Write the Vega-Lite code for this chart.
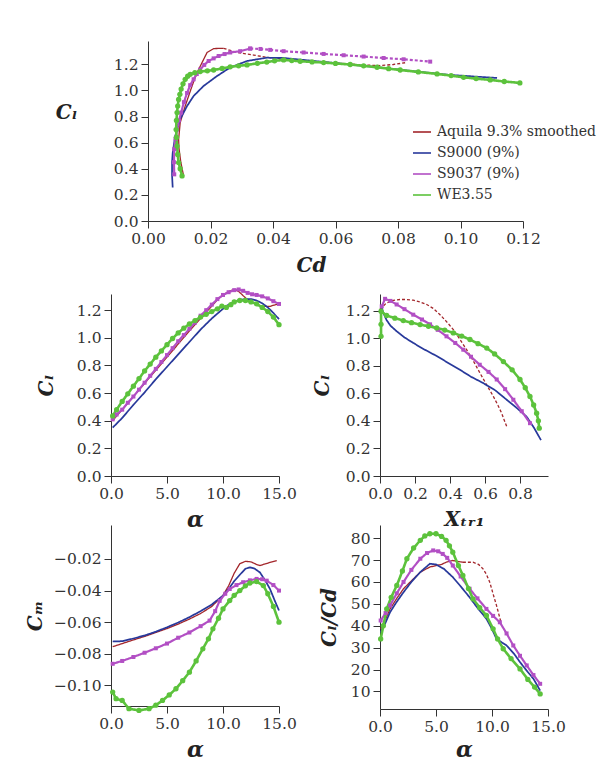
{
"$schema": "https://vega.github.io/schema/vega-lite/v6.json",
"padding": {"left": 25, "top": 41, "right": 5, "bottom": 5},
"spacing": 10,
"resolve": {"legend": {"color": "independent"}},
"config": {
  "view": {"stroke": null},
  "font": "DejaVu Serif",
  "axis": {"grid": false, "labelFlush": false, "labelOverlap": false, "domainColor": "#333", "tickColor": "#333", "tickSize": 7, "labelPadding": 3, "labelFont": "DejaVu Serif", "labelFontSize": 15.5, "labelColor": "#333", "titleFont": "DejaVu Serif", "titleFontSize": 20, "titleFontStyle": "italic", "titleFontWeight": "bold", "titleColor": "#222", "titleBaseline": "middle"},
  "legend": {"labelFont": "DejaVu Serif", "labelFontSize": 14, "labelColor": "#333", "symbolType": "stroke", "symbolSize": 324, "symbolStrokeWidth": 1.6, "rowPadding": 4, "labelOffset": 5, "padding": 0}
},
"datasets": {
"polar": [
{"airfoil":"Aquila 9.3% smoothed","x":0.0114,"y":0.345,"seg":1},{"airfoil":"Aquila 9.3% smoothed","x":0.0105,"y":0.45,"seg":1},{"airfoil":"Aquila 9.3% smoothed","x":0.0099,"y":0.56,"seg":1},{"airfoil":"Aquila 9.3% smoothed","x":0.0098,"y":0.625,"seg":1},{"airfoil":"Aquila 9.3% smoothed","x":0.0103,"y":0.753,"seg":1},{"airfoil":"Aquila 9.3% smoothed","x":0.0119,"y":0.88,"seg":1},{"airfoil":"Aquila 9.3% smoothed","x":0.0141,"y":1.034,"seg":1},{"airfoil":"Aquila 9.3% smoothed","x":0.0157,"y":1.136,"seg":1},{"airfoil":"Aquila 9.3% smoothed","x":0.0173,"y":1.213,"seg":1},{"airfoil":"Aquila 9.3% smoothed","x":0.0189,"y":1.29,"seg":1},{"airfoil":"Aquila 9.3% smoothed","x":0.021,"y":1.32,"seg":1},{"airfoil":"Aquila 9.3% smoothed","x":0.0242,"y":1.322,"seg":1},
{"airfoil":"Aquila 9.3% smoothed","x":0.0242,"y":1.322,"seg":2},{"airfoil":"Aquila 9.3% smoothed","x":0.0285,"y":1.29,"seg":2},{"airfoil":"Aquila 9.3% smoothed","x":0.0338,"y":1.27,"seg":2},{"airfoil":"Aquila 9.3% smoothed","x":0.039,"y":1.25,"seg":2},{"airfoil":"Aquila 9.3% smoothed","x":0.045,"y":1.24,"seg":2},{"airfoil":"Aquila 9.3% smoothed","x":0.052,"y":1.225,"seg":2},{"airfoil":"Aquila 9.3% smoothed","x":0.06,"y":1.21,"seg":2},{"airfoil":"Aquila 9.3% smoothed","x":0.068,"y":1.195,"seg":2},{"airfoil":"Aquila 9.3% smoothed","x":0.0744,"y":1.19,"seg":2},{"airfoil":"Aquila 9.3% smoothed","x":0.0785,"y":1.198,"seg":2},{"airfoil":"Aquila 9.3% smoothed","x":0.0824,"y":1.212,"seg":2},
{"airfoil":"S9000 (9%)","x":0.0079,"y":0.256,"seg":1},{"airfoil":"S9000 (9%)","x":0.0077,"y":0.35,"seg":1},{"airfoil":"S9000 (9%)","x":0.0077,"y":0.45,"seg":1},{"airfoil":"S9000 (9%)","x":0.0079,"y":0.52,"seg":1},{"airfoil":"S9000 (9%)","x":0.0087,"y":0.65,"seg":1},{"airfoil":"S9000 (9%)","x":0.0103,"y":0.78,"seg":1},{"airfoil":"S9000 (9%)","x":0.0125,"y":0.88,"seg":1},{"airfoil":"S9000 (9%)","x":0.0146,"y":0.957,"seg":1},{"airfoil":"S9000 (9%)","x":0.0178,"y":1.034,"seg":1},{"airfoil":"S9000 (9%)","x":0.0221,"y":1.11,"seg":1},{"airfoil":"S9000 (9%)","x":0.0263,"y":1.175,"seg":1},{"airfoil":"S9000 (9%)","x":0.0317,"y":1.225,"seg":1},{"airfoil":"S9000 (9%)","x":0.038,"y":1.25,"seg":1},{"airfoil":"S9000 (9%)","x":0.0434,"y":1.248,"seg":1},{"airfoil":"S9000 (9%)","x":0.054,"y":1.223,"seg":1},{"airfoil":"S9000 (9%)","x":0.0647,"y":1.198,"seg":1},{"airfoil":"S9000 (9%)","x":0.0754,"y":1.172,"seg":1},{"airfoil":"S9000 (9%)","x":0.0861,"y":1.144,"seg":1},{"airfoil":"S9000 (9%)","x":0.0967,"y":1.118,"seg":1},{"airfoil":"S9000 (9%)","x":0.1117,"y":1.095,"seg":1},
{"airfoil":"S9037 (9%)","x":0.0084,"y":0.357,"seg":1},{"airfoil":"S9037 (9%)","x":0.0083,"y":0.45,"seg":1},{"airfoil":"S9037 (9%)","x":0.0084,"y":0.55,"seg":1},{"airfoil":"S9037 (9%)","x":0.0088,"y":0.63,"seg":1},{"airfoil":"S9037 (9%)","x":0.0093,"y":0.7,"seg":1},{"airfoil":"S9037 (9%)","x":0.0099,"y":0.77,"seg":1},{"airfoil":"S9037 (9%)","x":0.0106,"y":0.83,"seg":1},{"airfoil":"S9037 (9%)","x":0.0115,"y":0.91,"seg":1},{"airfoil":"S9037 (9%)","x":0.0125,"y":0.98,"seg":1},{"airfoil":"S9037 (9%)","x":0.0135,"y":1.04,"seg":1},{"airfoil":"S9037 (9%)","x":0.0146,"y":1.085,"seg":1},{"airfoil":"S9037 (9%)","x":0.0156,"y":1.125,"seg":1},{"airfoil":"S9037 (9%)","x":0.0167,"y":1.16,"seg":1},{"airfoil":"S9037 (9%)","x":0.018,"y":1.195,"seg":1},{"airfoil":"S9037 (9%)","x":0.0194,"y":1.225,"seg":1},{"airfoil":"S9037 (9%)","x":0.021,"y":1.245,"seg":1},{"airfoil":"S9037 (9%)","x":0.0226,"y":1.263,"seg":1},{"airfoil":"S9037 (9%)","x":0.0245,"y":1.278,"seg":1},{"airfoil":"S9037 (9%)","x":0.0263,"y":1.29,"seg":1},{"airfoil":"S9037 (9%)","x":0.0295,"y":1.3,"seg":1},{"airfoil":"S9037 (9%)","x":0.0327,"y":1.32,"seg":1},
{"airfoil":"S9037 (9%)","x":0.0327,"y":1.32,"seg":2},{"airfoil":"S9037 (9%)","x":0.036,"y":1.317,"seg":2},{"airfoil":"S9037 (9%)","x":0.0391,"y":1.31,"seg":2},{"airfoil":"S9037 (9%)","x":0.0434,"y":1.3,"seg":2},{"airfoil":"S9037 (9%)","x":0.0498,"y":1.29,"seg":2},{"airfoil":"S9037 (9%)","x":0.0562,"y":1.279,"seg":2},{"airfoil":"S9037 (9%)","x":0.0626,"y":1.269,"seg":2},{"airfoil":"S9037 (9%)","x":0.069,"y":1.259,"seg":2},{"airfoil":"S9037 (9%)","x":0.0754,"y":1.248,"seg":2},{"airfoil":"S9037 (9%)","x":0.0818,"y":1.238,"seg":2},{"airfoil":"S9037 (9%)","x":0.0903,"y":1.22,"seg":2},
{"airfoil":"WE3.55","x":0.0109,"y":0.345,"seg":1},{"airfoil":"WE3.55","x":0.0103,"y":0.4,"seg":1},{"airfoil":"WE3.55","x":0.0098,"y":0.447,"seg":1},{"airfoil":"WE3.55","x":0.0095,"y":0.51,"seg":1},{"airfoil":"WE3.55","x":0.0093,"y":0.574,"seg":1},{"airfoil":"WE3.55","x":0.0091,"y":0.64,"seg":1},{"airfoil":"WE3.55","x":0.009,"y":0.7,"seg":1},{"airfoil":"WE3.55","x":0.0091,"y":0.77,"seg":1},{"airfoil":"WE3.55","x":0.0093,"y":0.83,"seg":1},{"airfoil":"WE3.55","x":0.0095,"y":0.88,"seg":1},{"airfoil":"WE3.55","x":0.0098,"y":0.93,"seg":1},{"airfoil":"WE3.55","x":0.0102,"y":0.97,"seg":1},{"airfoil":"WE3.55","x":0.0106,"y":1.01,"seg":1},{"airfoil":"WE3.55","x":0.0112,"y":1.05,"seg":1},{"airfoil":"WE3.55","x":0.0119,"y":1.085,"seg":1},{"airfoil":"WE3.55","x":0.0127,"y":1.108,"seg":1},{"airfoil":"WE3.55","x":0.0135,"y":1.123,"seg":1},{"airfoil":"WE3.55","x":0.015,"y":1.135,"seg":1},{"airfoil":"WE3.55","x":0.0167,"y":1.144,"seg":1},{"airfoil":"WE3.55","x":0.019,"y":1.15,"seg":1},{"airfoil":"WE3.55","x":0.021,"y":1.156,"seg":1},{"airfoil":"WE3.55","x":0.0237,"y":1.168,"seg":1},{"airfoil":"WE3.55","x":0.0263,"y":1.18,"seg":1},{"airfoil":"WE3.55","x":0.029,"y":1.188,"seg":1},{"airfoil":"WE3.55","x":0.0317,"y":1.195,"seg":1},{"airfoil":"WE3.55","x":0.035,"y":1.207,"seg":1},{"airfoil":"WE3.55","x":0.038,"y":1.217,"seg":1},{"airfoil":"WE3.55","x":0.0405,"y":1.226,"seg":1},{"airfoil":"WE3.55","x":0.0434,"y":1.233,"seg":1},{"airfoil":"WE3.55","x":0.046,"y":1.228,"seg":1},{"airfoil":"WE3.55","x":0.0487,"y":1.223,"seg":1},{"airfoil":"WE3.55","x":0.0525,"y":1.218,"seg":1},{"airfoil":"WE3.55","x":0.0562,"y":1.213,"seg":1},{"airfoil":"WE3.55","x":0.06,"y":1.206,"seg":1},{"airfoil":"WE3.55","x":0.0647,"y":1.198,"seg":1},{"airfoil":"WE3.55","x":0.069,"y":1.188,"seg":1},{"airfoil":"WE3.55","x":0.0733,"y":1.177,"seg":1},{"airfoil":"WE3.55","x":0.077,"y":1.166,"seg":1},{"airfoil":"WE3.55","x":0.0807,"y":1.156,"seg":1},{"airfoil":"WE3.55","x":0.0865,"y":1.141,"seg":1},{"airfoil":"WE3.55","x":0.0925,"y":1.126,"seg":1},{"airfoil":"WE3.55","x":0.097,"y":1.113,"seg":1},{"airfoil":"WE3.55","x":0.101,"y":1.1,"seg":1},{"airfoil":"WE3.55","x":0.105,"y":1.09,"seg":1},{"airfoil":"WE3.55","x":0.1095,"y":1.08,"seg":1},{"airfoil":"WE3.55","x":0.114,"y":1.068,"seg":1},{"airfoil":"WE3.55","x":0.119,"y":1.057,"seg":1}
],
"clAlpha": [
{"airfoil":"Aquila 9.3% smoothed","x":0.15,"y":0.4,"seg":1},{"airfoil":"Aquila 9.3% smoothed","x":1,"y":0.48,"seg":1},{"airfoil":"Aquila 9.3% smoothed","x":2,"y":0.575,"seg":1},{"airfoil":"Aquila 9.3% smoothed","x":3,"y":0.67,"seg":1},{"airfoil":"Aquila 9.3% smoothed","x":4,"y":0.765,"seg":1},{"airfoil":"Aquila 9.3% smoothed","x":5,"y":0.86,"seg":1},{"airfoil":"Aquila 9.3% smoothed","x":6,"y":0.955,"seg":1},{"airfoil":"Aquila 9.3% smoothed","x":7,"y":1.05,"seg":1},{"airfoil":"Aquila 9.3% smoothed","x":8,"y":1.14,"seg":1},{"airfoil":"Aquila 9.3% smoothed","x":9,"y":1.23,"seg":1},{"airfoil":"Aquila 9.3% smoothed","x":9.5,"y":1.275,"seg":1},{"airfoil":"Aquila 9.3% smoothed","x":10,"y":1.31,"seg":1},{"airfoil":"Aquila 9.3% smoothed","x":10.5,"y":1.335,"seg":1},{"airfoil":"Aquila 9.3% smoothed","x":11,"y":1.35,"seg":1},{"airfoil":"Aquila 9.3% smoothed","x":11.4,"y":1.335,"seg":1},{"airfoil":"Aquila 9.3% smoothed","x":11.8,"y":1.305,"seg":1},{"airfoil":"Aquila 9.3% smoothed","x":12.2,"y":1.275,"seg":1},{"airfoil":"Aquila 9.3% smoothed","x":12.6,"y":1.255,"seg":1},{"airfoil":"Aquila 9.3% smoothed","x":13,"y":1.24,"seg":1},{"airfoil":"Aquila 9.3% smoothed","x":13.6,"y":1.228,"seg":1},{"airfoil":"Aquila 9.3% smoothed","x":14.2,"y":1.228,"seg":1},{"airfoil":"Aquila 9.3% smoothed","x":14.6,"y":1.237,"seg":1},{"airfoil":"Aquila 9.3% smoothed","x":15,"y":1.245,"seg":1},
{"airfoil":"S9000 (9%)","x":0.15,"y":0.35,"seg":1},{"airfoil":"S9000 (9%)","x":1,"y":0.42,"seg":1},{"airfoil":"S9000 (9%)","x":2,"y":0.515,"seg":1},{"airfoil":"S9000 (9%)","x":3,"y":0.605,"seg":1},{"airfoil":"S9000 (9%)","x":4,"y":0.7,"seg":1},{"airfoil":"S9000 (9%)","x":5,"y":0.79,"seg":1},{"airfoil":"S9000 (9%)","x":6,"y":0.88,"seg":1},{"airfoil":"S9000 (9%)","x":7,"y":0.97,"seg":1},{"airfoil":"S9000 (9%)","x":8,"y":1.06,"seg":1},{"airfoil":"S9000 (9%)","x":9,"y":1.14,"seg":1},{"airfoil":"S9000 (9%)","x":10,"y":1.21,"seg":1},{"airfoil":"S9000 (9%)","x":10.5,"y":1.24,"seg":1},{"airfoil":"S9000 (9%)","x":11,"y":1.26,"seg":1},{"airfoil":"S9000 (9%)","x":11.5,"y":1.275,"seg":1},{"airfoil":"S9000 (9%)","x":12,"y":1.28,"seg":1},{"airfoil":"S9000 (9%)","x":12.5,"y":1.28,"seg":1},{"airfoil":"S9000 (9%)","x":13,"y":1.27,"seg":1},{"airfoil":"S9000 (9%)","x":13.5,"y":1.25,"seg":1},{"airfoil":"S9000 (9%)","x":14,"y":1.22,"seg":1},{"airfoil":"S9000 (9%)","x":14.5,"y":1.18,"seg":1},{"airfoil":"S9000 (9%)","x":15,"y":1.135,"seg":1},
{"airfoil":"S9037 (9%)","x":0.15,"y":0.41,"seg":1},{"airfoil":"S9037 (9%)","x":0.5,"y":0.445,"seg":1},{"airfoil":"S9037 (9%)","x":1,"y":0.48,"seg":1},{"airfoil":"S9037 (9%)","x":1.5,"y":0.53,"seg":1},{"airfoil":"S9037 (9%)","x":2,"y":0.575,"seg":1},{"airfoil":"S9037 (9%)","x":2.5,"y":0.625,"seg":1},{"airfoil":"S9037 (9%)","x":3,"y":0.675,"seg":1},{"airfoil":"S9037 (9%)","x":3.5,"y":0.725,"seg":1},{"airfoil":"S9037 (9%)","x":4,"y":0.775,"seg":1},{"airfoil":"S9037 (9%)","x":4.5,"y":0.825,"seg":1},{"airfoil":"S9037 (9%)","x":5,"y":0.875,"seg":1},{"airfoil":"S9037 (9%)","x":5.5,"y":0.925,"seg":1},{"airfoil":"S9037 (9%)","x":6,"y":0.975,"seg":1},{"airfoil":"S9037 (9%)","x":6.5,"y":1.02,"seg":1},{"airfoil":"S9037 (9%)","x":7,"y":1.065,"seg":1},{"airfoil":"S9037 (9%)","x":7.5,"y":1.11,"seg":1},{"airfoil":"S9037 (9%)","x":8,"y":1.16,"seg":1},{"airfoil":"S9037 (9%)","x":8.5,"y":1.2,"seg":1},{"airfoil":"S9037 (9%)","x":9,"y":1.24,"seg":1},{"airfoil":"S9037 (9%)","x":9.5,"y":1.28,"seg":1},{"airfoil":"S9037 (9%)","x":10,"y":1.31,"seg":1},{"airfoil":"S9037 (9%)","x":10.5,"y":1.33,"seg":1},{"airfoil":"S9037 (9%)","x":11,"y":1.345,"seg":1},{"airfoil":"S9037 (9%)","x":11.4,"y":1.35,"seg":1},{"airfoil":"S9037 (9%)","x":11.8,"y":1.34,"seg":1},{"airfoil":"S9037 (9%)","x":12.2,"y":1.325,"seg":1},{"airfoil":"S9037 (9%)","x":12.6,"y":1.315,"seg":1},{"airfoil":"S9037 (9%)","x":13,"y":1.31,"seg":1},{"airfoil":"S9037 (9%)","x":13.5,"y":1.3,"seg":1},{"airfoil":"S9037 (9%)","x":14,"y":1.285,"seg":1},{"airfoil":"S9037 (9%)","x":14.5,"y":1.265,"seg":1},{"airfoil":"S9037 (9%)","x":15,"y":1.245,"seg":1},
{"airfoil":"WE3.55","x":0.15,"y":0.435,"seg":1},{"airfoil":"WE3.55","x":0.5,"y":0.48,"seg":1},{"airfoil":"WE3.55","x":1,"y":0.54,"seg":1},{"airfoil":"WE3.55","x":1.5,"y":0.595,"seg":1},{"airfoil":"WE3.55","x":2,"y":0.65,"seg":1},{"airfoil":"WE3.55","x":2.5,"y":0.705,"seg":1},{"airfoil":"WE3.55","x":3,"y":0.76,"seg":1},{"airfoil":"WE3.55","x":3.5,"y":0.81,"seg":1},{"airfoil":"WE3.55","x":4,"y":0.86,"seg":1},{"airfoil":"WE3.55","x":4.5,"y":0.905,"seg":1},{"airfoil":"WE3.55","x":5,"y":0.95,"seg":1},{"airfoil":"WE3.55","x":5.5,"y":0.995,"seg":1},{"airfoil":"WE3.55","x":6,"y":1.035,"seg":1},{"airfoil":"WE3.55","x":6.5,"y":1.07,"seg":1},{"airfoil":"WE3.55","x":7,"y":1.1,"seg":1},{"airfoil":"WE3.55","x":7.5,"y":1.125,"seg":1},{"airfoil":"WE3.55","x":8,"y":1.15,"seg":1},{"airfoil":"WE3.55","x":8.5,"y":1.17,"seg":1},{"airfoil":"WE3.55","x":9,"y":1.19,"seg":1},{"airfoil":"WE3.55","x":9.5,"y":1.21,"seg":1},{"airfoil":"WE3.55","x":9.9,"y":1.23,"seg":1},{"airfoil":"WE3.55","x":10.3,"y":1.22,"seg":1},{"airfoil":"WE3.55","x":10.7,"y":1.24,"seg":1},{"airfoil":"WE3.55","x":11,"y":1.26,"seg":1},{"airfoil":"WE3.55","x":11.5,"y":1.27,"seg":1},{"airfoil":"WE3.55","x":12,"y":1.27,"seg":1},{"airfoil":"WE3.55","x":12.5,"y":1.26,"seg":1},{"airfoil":"WE3.55","x":13,"y":1.245,"seg":1},{"airfoil":"WE3.55","x":13.5,"y":1.22,"seg":1},{"airfoil":"WE3.55","x":14,"y":1.19,"seg":1},{"airfoil":"WE3.55","x":14.5,"y":1.15,"seg":1},{"airfoil":"WE3.55","x":15,"y":1.095,"seg":1}
],
"clXtr": [
{"airfoil":"Aquila 9.3% smoothed","x":0.0,"y":1.21,"seg":2},{"airfoil":"Aquila 9.3% smoothed","x":0.038,"y":1.256,"seg":2},{"airfoil":"Aquila 9.3% smoothed","x":0.076,"y":1.273,"seg":2},{"airfoil":"Aquila 9.3% smoothed","x":0.114,"y":1.28,"seg":2},{"airfoil":"Aquila 9.3% smoothed","x":0.15,"y":1.28,"seg":2},{"airfoil":"Aquila 9.3% smoothed","x":0.19,"y":1.275,"seg":2},{"airfoil":"Aquila 9.3% smoothed","x":0.23,"y":1.262,"seg":2},{"airfoil":"Aquila 9.3% smoothed","x":0.267,"y":1.244,"seg":2},{"airfoil":"Aquila 9.3% smoothed","x":0.305,"y":1.215,"seg":2},{"airfoil":"Aquila 9.3% smoothed","x":0.343,"y":1.17,"seg":2},{"airfoil":"Aquila 9.3% smoothed","x":0.38,"y":1.12,"seg":2},{"airfoil":"Aquila 9.3% smoothed","x":0.419,"y":1.062,"seg":2},{"airfoil":"Aquila 9.3% smoothed","x":0.457,"y":0.99,"seg":2},{"airfoil":"Aquila 9.3% smoothed","x":0.495,"y":0.916,"seg":2},{"airfoil":"Aquila 9.3% smoothed","x":0.533,"y":0.835,"seg":2},{"airfoil":"Aquila 9.3% smoothed","x":0.571,"y":0.747,"seg":2},{"airfoil":"Aquila 9.3% smoothed","x":0.61,"y":0.66,"seg":2},{"airfoil":"Aquila 9.3% smoothed","x":0.648,"y":0.577,"seg":2},{"airfoil":"Aquila 9.3% smoothed","x":0.675,"y":0.51,"seg":2},{"airfoil":"Aquila 9.3% smoothed","x":0.695,"y":0.456,"seg":2},{"airfoil":"Aquila 9.3% smoothed","x":0.71,"y":0.405,"seg":2},{"airfoil":"Aquila 9.3% smoothed","x":0.724,"y":0.359,"seg":2},
{"airfoil":"S9000 (9%)","x":0.01,"y":1.22,"seg":1},{"airfoil":"S9000 (9%)","x":0.02,"y":1.18,"seg":1},{"airfoil":"S9000 (9%)","x":0.038,"y":1.13,"seg":1},{"airfoil":"S9000 (9%)","x":0.06,"y":1.09,"seg":1},{"airfoil":"S9000 (9%)","x":0.095,"y":1.05,"seg":1},{"airfoil":"S9000 (9%)","x":0.14,"y":1.005,"seg":1},{"airfoil":"S9000 (9%)","x":0.19,"y":0.965,"seg":1},{"airfoil":"S9000 (9%)","x":0.25,"y":0.92,"seg":1},{"airfoil":"S9000 (9%)","x":0.324,"y":0.87,"seg":1},{"airfoil":"S9000 (9%)","x":0.39,"y":0.82,"seg":1},{"airfoil":"S9000 (9%)","x":0.457,"y":0.77,"seg":1},{"airfoil":"S9000 (9%)","x":0.52,"y":0.72,"seg":1},{"airfoil":"S9000 (9%)","x":0.59,"y":0.674,"seg":1},{"airfoil":"S9000 (9%)","x":0.66,"y":0.62,"seg":1},{"airfoil":"S9000 (9%)","x":0.724,"y":0.553,"seg":1},{"airfoil":"S9000 (9%)","x":0.78,"y":0.495,"seg":1},{"airfoil":"S9000 (9%)","x":0.838,"y":0.43,"seg":1},{"airfoil":"S9000 (9%)","x":0.88,"y":0.35,"seg":1},{"airfoil":"S9000 (9%)","x":0.92,"y":0.26,"seg":1},
{"airfoil":"S9037 (9%)","x":0.01,"y":1.23,"seg":1},{"airfoil":"S9037 (9%)","x":0.029,"y":1.285,"seg":1},{"airfoil":"S9037 (9%)","x":0.06,"y":1.27,"seg":1},{"airfoil":"S9037 (9%)","x":0.095,"y":1.244,"seg":1},{"airfoil":"S9037 (9%)","x":0.14,"y":1.21,"seg":1},{"airfoil":"S9037 (9%)","x":0.19,"y":1.17,"seg":1},{"airfoil":"S9037 (9%)","x":0.24,"y":1.135,"seg":1},{"airfoil":"S9037 (9%)","x":0.286,"y":1.1,"seg":1},{"airfoil":"S9037 (9%)","x":0.33,"y":1.06,"seg":1},{"airfoil":"S9037 (9%)","x":0.38,"y":1.013,"seg":1},{"airfoil":"S9037 (9%)","x":0.43,"y":0.965,"seg":1},{"airfoil":"S9037 (9%)","x":0.476,"y":0.916,"seg":1},{"airfoil":"S9037 (9%)","x":0.52,"y":0.865,"seg":1},{"airfoil":"S9037 (9%)","x":0.57,"y":0.807,"seg":1},{"airfoil":"S9037 (9%)","x":0.62,"y":0.755,"seg":1},{"airfoil":"S9037 (9%)","x":0.667,"y":0.7,"seg":1},{"airfoil":"S9037 (9%)","x":0.715,"y":0.63,"seg":1},{"airfoil":"S9037 (9%)","x":0.762,"y":0.553,"seg":1},{"airfoil":"S9037 (9%)","x":0.81,"y":0.47,"seg":1},{"airfoil":"S9037 (9%)","x":0.857,"y":0.383,"seg":1},
{"airfoil":"WE3.55","x":0.006,"y":1.013,"seg":1},{"airfoil":"WE3.55","x":0.006,"y":1.1,"seg":1},{"airfoil":"WE3.55","x":0.006,"y":1.195,"seg":1},{"airfoil":"WE3.55","x":0.038,"y":1.164,"seg":1},{"airfoil":"WE3.55","x":0.085,"y":1.145,"seg":1},{"airfoil":"WE3.55","x":0.133,"y":1.127,"seg":1},{"airfoil":"WE3.55","x":0.18,"y":1.112,"seg":1},{"airfoil":"WE3.55","x":0.229,"y":1.098,"seg":1},{"airfoil":"WE3.55","x":0.277,"y":1.086,"seg":1},{"airfoil":"WE3.55","x":0.324,"y":1.074,"seg":1},{"airfoil":"WE3.55","x":0.37,"y":1.058,"seg":1},{"airfoil":"WE3.55","x":0.419,"y":1.038,"seg":1},{"airfoil":"WE3.55","x":0.467,"y":1.015,"seg":1},{"airfoil":"WE3.55","x":0.514,"y":0.99,"seg":1},{"airfoil":"WE3.55","x":0.56,"y":0.96,"seg":1},{"airfoil":"WE3.55","x":0.61,"y":0.928,"seg":1},{"airfoil":"WE3.55","x":0.655,"y":0.885,"seg":1},{"airfoil":"WE3.55","x":0.705,"y":0.83,"seg":1},{"airfoil":"WE3.55","x":0.755,"y":0.77,"seg":1},{"airfoil":"WE3.55","x":0.8,"y":0.7,"seg":1},{"airfoil":"WE3.55","x":0.83,"y":0.64,"seg":1},{"airfoil":"WE3.55","x":0.857,"y":0.577,"seg":1},{"airfoil":"WE3.55","x":0.878,"y":0.515,"seg":1},{"airfoil":"WE3.55","x":0.895,"y":0.456,"seg":1},{"airfoil":"WE3.55","x":0.905,"y":0.4,"seg":1},{"airfoil":"WE3.55","x":0.91,"y":0.347,"seg":1}
],
"cmAlpha": [
{"airfoil":"Aquila 9.3% smoothed","x":0.15,"y":-0.0755,"seg":1},{"airfoil":"Aquila 9.3% smoothed","x":1,"y":-0.0735,"seg":1},{"airfoil":"Aquila 9.3% smoothed","x":2,"y":-0.0712,"seg":1},{"airfoil":"Aquila 9.3% smoothed","x":3,"y":-0.069,"seg":1},{"airfoil":"Aquila 9.3% smoothed","x":4,"y":-0.0665,"seg":1},{"airfoil":"Aquila 9.3% smoothed","x":5,"y":-0.064,"seg":1},{"airfoil":"Aquila 9.3% smoothed","x":6,"y":-0.0612,"seg":1},{"airfoil":"Aquila 9.3% smoothed","x":7,"y":-0.058,"seg":1},{"airfoil":"Aquila 9.3% smoothed","x":8,"y":-0.0545,"seg":1},{"airfoil":"Aquila 9.3% smoothed","x":9,"y":-0.05,"seg":1},{"airfoil":"Aquila 9.3% smoothed","x":10,"y":-0.043,"seg":1},{"airfoil":"Aquila 9.3% smoothed","x":10.5,"y":-0.037,"seg":1},{"airfoil":"Aquila 9.3% smoothed","x":11,"y":-0.029,"seg":1},{"airfoil":"Aquila 9.3% smoothed","x":11.5,"y":-0.023,"seg":1},{"airfoil":"Aquila 9.3% smoothed","x":12,"y":-0.0215,"seg":1},{"airfoil":"Aquila 9.3% smoothed","x":12.5,"y":-0.0218,"seg":1},{"airfoil":"Aquila 9.3% smoothed","x":13,"y":-0.0235,"seg":1},{"airfoil":"Aquila 9.3% smoothed","x":13.3,"y":-0.0242,"seg":1},{"airfoil":"Aquila 9.3% smoothed","x":13.7,"y":-0.0232,"seg":1},{"airfoil":"Aquila 9.3% smoothed","x":14.2,"y":-0.0222,"seg":1},{"airfoil":"Aquila 9.3% smoothed","x":14.8,"y":-0.021,"seg":1},
{"airfoil":"S9000 (9%)","x":0.15,"y":-0.0722,"seg":1},{"airfoil":"S9000 (9%)","x":1,"y":-0.072,"seg":1},{"airfoil":"S9000 (9%)","x":2,"y":-0.0703,"seg":1},{"airfoil":"S9000 (9%)","x":3,"y":-0.0684,"seg":1},{"airfoil":"S9000 (9%)","x":4,"y":-0.066,"seg":1},{"airfoil":"S9000 (9%)","x":5,"y":-0.0632,"seg":1},{"airfoil":"S9000 (9%)","x":6,"y":-0.0602,"seg":1},{"airfoil":"S9000 (9%)","x":7,"y":-0.0568,"seg":1},{"airfoil":"S9000 (9%)","x":8,"y":-0.053,"seg":1},{"airfoil":"S9000 (9%)","x":9,"y":-0.0488,"seg":1},{"airfoil":"S9000 (9%)","x":10,"y":-0.0432,"seg":1},{"airfoil":"S9000 (9%)","x":10.5,"y":-0.039,"seg":1},{"airfoil":"S9000 (9%)","x":11,"y":-0.034,"seg":1},{"airfoil":"S9000 (9%)","x":11.5,"y":-0.03,"seg":1},{"airfoil":"S9000 (9%)","x":12,"y":-0.0262,"seg":1},{"airfoil":"S9000 (9%)","x":12.4,"y":-0.0253,"seg":1},{"airfoil":"S9000 (9%)","x":12.8,"y":-0.026,"seg":1},{"airfoil":"S9000 (9%)","x":13.3,"y":-0.0285,"seg":1},{"airfoil":"S9000 (9%)","x":13.8,"y":-0.034,"seg":1},{"airfoil":"S9000 (9%)","x":14.2,"y":-0.039,"seg":1},{"airfoil":"S9000 (9%)","x":14.6,"y":-0.046,"seg":1},{"airfoil":"S9000 (9%)","x":15,"y":-0.0526,"seg":1},
{"airfoil":"S9037 (9%)","x":0.15,"y":-0.0863,"seg":1},{"airfoil":"S9037 (9%)","x":1,"y":-0.0845,"seg":1},{"airfoil":"S9037 (9%)","x":2,"y":-0.082,"seg":1},{"airfoil":"S9037 (9%)","x":3,"y":-0.0793,"seg":1},{"airfoil":"S9037 (9%)","x":4,"y":-0.0765,"seg":1},{"airfoil":"S9037 (9%)","x":5,"y":-0.0735,"seg":1},{"airfoil":"S9037 (9%)","x":6,"y":-0.0698,"seg":1},{"airfoil":"S9037 (9%)","x":7,"y":-0.0665,"seg":1},{"airfoil":"S9037 (9%)","x":8,"y":-0.0625,"seg":1},{"airfoil":"S9037 (9%)","x":8.8,"y":-0.059,"seg":1},{"airfoil":"S9037 (9%)","x":9.3,"y":-0.053,"seg":1},{"airfoil":"S9037 (9%)","x":9.7,"y":-0.0465,"seg":1},{"airfoil":"S9037 (9%)","x":10.2,"y":-0.042,"seg":1},{"airfoil":"S9037 (9%)","x":10.6,"y":-0.039,"seg":1},{"airfoil":"S9037 (9%)","x":11.2,"y":-0.0365,"seg":1},{"airfoil":"S9037 (9%)","x":11.8,"y":-0.0347,"seg":1},{"airfoil":"S9037 (9%)","x":12.4,"y":-0.0335,"seg":1},{"airfoil":"S9037 (9%)","x":13,"y":-0.0326,"seg":1},{"airfoil":"S9037 (9%)","x":13.5,"y":-0.0328,"seg":1},{"airfoil":"S9037 (9%)","x":13.9,"y":-0.0337,"seg":1},{"airfoil":"S9037 (9%)","x":14.5,"y":-0.0365,"seg":1},{"airfoil":"S9037 (9%)","x":15,"y":-0.04,"seg":1},
{"airfoil":"WE3.55","x":0.15,"y":-0.1042,"seg":1},{"airfoil":"WE3.55","x":0.45,"y":-0.1084,"seg":1},{"airfoil":"WE3.55","x":1,"y":-0.1095,"seg":1},{"airfoil":"WE3.55","x":1.6,"y":-0.1147,"seg":1},{"airfoil":"WE3.55","x":2.5,"y":-0.1158,"seg":1},{"airfoil":"WE3.55","x":3.4,"y":-0.1147,"seg":1},{"airfoil":"WE3.55","x":4,"y":-0.1125,"seg":1},{"airfoil":"WE3.55","x":4.6,"y":-0.1095,"seg":1},{"airfoil":"WE3.55","x":5.2,"y":-0.106,"seg":1},{"airfoil":"WE3.55","x":5.8,"y":-0.1021,"seg":1},{"airfoil":"WE3.55","x":6.4,"y":-0.097,"seg":1},{"airfoil":"WE3.55","x":7,"y":-0.0916,"seg":1},{"airfoil":"WE3.55","x":7.6,"y":-0.0845,"seg":1},{"airfoil":"WE3.55","x":8.2,"y":-0.0768,"seg":1},{"airfoil":"WE3.55","x":8.7,"y":-0.0705,"seg":1},{"airfoil":"WE3.55","x":9.1,"y":-0.0642,"seg":1},{"airfoil":"WE3.55","x":9.6,"y":-0.0575,"seg":1},{"airfoil":"WE3.55","x":10,"y":-0.0516,"seg":1},{"airfoil":"WE3.55","x":10.6,"y":-0.0463,"seg":1},{"airfoil":"WE3.55","x":11,"y":-0.043,"seg":1},{"airfoil":"WE3.55","x":11.5,"y":-0.04,"seg":1},{"airfoil":"WE3.55","x":12,"y":-0.037,"seg":1},{"airfoil":"WE3.55","x":12.4,"y":-0.0352,"seg":1},{"airfoil":"WE3.55","x":13,"y":-0.0343,"seg":1},{"airfoil":"WE3.55","x":13.6,"y":-0.0368,"seg":1},{"airfoil":"WE3.55","x":14,"y":-0.042,"seg":1},{"airfoil":"WE3.55","x":14.5,"y":-0.05,"seg":1},{"airfoil":"WE3.55","x":15,"y":-0.06,"seg":1}
],
"ldAlpha": [
{"airfoil":"Aquila 9.3% smoothed","x":0.06,"y":38.6,"seg":1},{"airfoil":"Aquila 9.3% smoothed","x":0.5,"y":43,"seg":1},{"airfoil":"Aquila 9.3% smoothed","x":0.9,"y":47.7,"seg":1},{"airfoil":"Aquila 9.3% smoothed","x":1.5,"y":52.5,"seg":1},{"airfoil":"Aquila 9.3% smoothed","x":2.1,"y":56.9,"seg":1},{"airfoil":"Aquila 9.3% smoothed","x":2.8,"y":60.5,"seg":1},{"airfoil":"Aquila 9.3% smoothed","x":3.6,"y":64.5,"seg":1},{"airfoil":"Aquila 9.3% smoothed","x":4.45,"y":66.8,"seg":1},{"airfoil":"Aquila 9.3% smoothed","x":5,"y":67.5,"seg":1},{"airfoil":"Aquila 9.3% smoothed","x":5.5,"y":68,"seg":1},{"airfoil":"Aquila 9.3% smoothed","x":5.9,"y":69,"seg":1},{"airfoil":"Aquila 9.3% smoothed","x":6.5,"y":69.8,"seg":1},{"airfoil":"Aquila 9.3% smoothed","x":7,"y":69.3,"seg":1},{"airfoil":"Aquila 9.3% smoothed","x":7.4,"y":69,"seg":1},
{"airfoil":"Aquila 9.3% smoothed","x":7.4,"y":69,"seg":2},{"airfoil":"Aquila 9.3% smoothed","x":8.3,"y":69,"seg":2},{"airfoil":"Aquila 9.3% smoothed","x":8.8,"y":68,"seg":2},{"airfoil":"Aquila 9.3% smoothed","x":9.2,"y":66,"seg":2},{"airfoil":"Aquila 9.3% smoothed","x":9.5,"y":63.5,"seg":2},{"airfoil":"Aquila 9.3% smoothed","x":9.8,"y":59.9,"seg":2},{"airfoil":"Aquila 9.3% smoothed","x":10.1,"y":54.5,"seg":2},{"airfoil":"Aquila 9.3% smoothed","x":10.4,"y":49.3,"seg":2},{"airfoil":"Aquila 9.3% smoothed","x":10.8,"y":41.6,"seg":2},
{"airfoil":"S9000 (9%)","x":0.06,"y":37,"seg":1},{"airfoil":"S9000 (9%)","x":0.5,"y":41.5,"seg":1},{"airfoil":"S9000 (9%)","x":0.9,"y":46.2,"seg":1},{"airfoil":"S9000 (9%)","x":1.5,"y":51,"seg":1},{"airfoil":"S9000 (9%)","x":2.1,"y":55.3,"seg":1},{"airfoil":"S9000 (9%)","x":2.8,"y":60,"seg":1},{"airfoil":"S9000 (9%)","x":3.6,"y":64.5,"seg":1},{"airfoil":"S9000 (9%)","x":4.45,"y":68.3,"seg":1},{"airfoil":"S9000 (9%)","x":5,"y":68,"seg":1},{"airfoil":"S9000 (9%)","x":5.7,"y":66,"seg":1},{"airfoil":"S9000 (9%)","x":6.5,"y":62.2,"seg":1},{"airfoil":"S9000 (9%)","x":7.2,"y":58,"seg":1},{"airfoil":"S9000 (9%)","x":8,"y":53,"seg":1},{"airfoil":"S9000 (9%)","x":8.7,"y":48.2,"seg":1},{"airfoil":"S9000 (9%)","x":9.5,"y":43.2,"seg":1},{"airfoil":"S9000 (9%)","x":10,"y":38.5,"seg":1},{"airfoil":"S9000 (9%)","x":10.4,"y":34,"seg":1},{"airfoil":"S9000 (9%)","x":11,"y":32,"seg":1},{"airfoil":"S9000 (9%)","x":11.3,"y":31,"seg":1},{"airfoil":"S9000 (9%)","x":12,"y":27,"seg":1},{"airfoil":"S9000 (9%)","x":12.5,"y":23.4,"seg":1},{"airfoil":"S9000 (9%)","x":13.1,"y":19.5,"seg":1},{"airfoil":"S9000 (9%)","x":13.7,"y":15.8,"seg":1},{"airfoil":"S9000 (9%)","x":14.3,"y":10.4,"seg":1},
{"airfoil":"S9037 (9%)","x":0.06,"y":42.4,"seg":1},{"airfoil":"S9037 (9%)","x":0.5,"y":45.8,"seg":1},{"airfoil":"S9037 (9%)","x":0.9,"y":49.3,"seg":1},{"airfoil":"S9037 (9%)","x":1.5,"y":54.8,"seg":1},{"airfoil":"S9037 (9%)","x":2.1,"y":60,"seg":1},{"airfoil":"S9037 (9%)","x":2.8,"y":65.5,"seg":1},{"airfoil":"S9037 (9%)","x":3.6,"y":70.6,"seg":1},{"airfoil":"S9037 (9%)","x":4.2,"y":73.2,"seg":1},{"airfoil":"S9037 (9%)","x":4.75,"y":74.4,"seg":1},{"airfoil":"S9037 (9%)","x":5.2,"y":74,"seg":1},{"airfoil":"S9037 (9%)","x":5.6,"y":72.8,"seg":1},{"airfoil":"S9037 (9%)","x":6,"y":71,"seg":1},{"airfoil":"S9037 (9%)","x":6.5,"y":67.5,"seg":1},{"airfoil":"S9037 (9%)","x":7.2,"y":62.5,"seg":1},{"airfoil":"S9037 (9%)","x":8,"y":56.9,"seg":1},{"airfoil":"S9037 (9%)","x":8.7,"y":52.5,"seg":1},{"airfoil":"S9037 (9%)","x":9.5,"y":47.7,"seg":1},{"airfoil":"S9037 (9%)","x":10.1,"y":44.5,"seg":1},{"airfoil":"S9037 (9%)","x":10.7,"y":41.6,"seg":1},{"airfoil":"S9037 (9%)","x":11.3,"y":36.5,"seg":1},{"airfoil":"S9037 (9%)","x":11.9,"y":31,"seg":1},{"airfoil":"S9037 (9%)","x":12.5,"y":26.3,"seg":1},{"airfoil":"S9037 (9%)","x":13.1,"y":21.9,"seg":1},{"airfoil":"S9037 (9%)","x":13.7,"y":17.5,"seg":1},{"airfoil":"S9037 (9%)","x":14.3,"y":13.5,"seg":1},
{"airfoil":"WE3.55","x":0.06,"y":34,"seg":1},{"airfoil":"WE3.55","x":0.3,"y":40,"seg":1},{"airfoil":"WE3.55","x":0.6,"y":47.7,"seg":1},{"airfoil":"WE3.55","x":1,"y":53,"seg":1},{"airfoil":"WE3.55","x":1.5,"y":58.4,"seg":1},{"airfoil":"WE3.55","x":2,"y":65,"seg":1},{"airfoil":"WE3.55","x":2.4,"y":70.6,"seg":1},{"airfoil":"WE3.55","x":3,"y":75.5,"seg":1},{"airfoil":"WE3.55","x":3.6,"y":79,"seg":1},{"airfoil":"WE3.55","x":4,"y":81,"seg":1},{"airfoil":"WE3.55","x":4.45,"y":82,"seg":1},{"airfoil":"WE3.55","x":5,"y":82,"seg":1},{"airfoil":"WE3.55","x":5.5,"y":80.8,"seg":1},{"airfoil":"WE3.55","x":5.9,"y":79,"seg":1},{"airfoil":"WE3.55","x":6.2,"y":76.5,"seg":1},{"airfoil":"WE3.55","x":6.5,"y":73.6,"seg":1},{"airfoil":"WE3.55","x":7,"y":67.5,"seg":1},{"airfoil":"WE3.55","x":7.4,"y":63,"seg":1},{"airfoil":"WE3.55","x":7.9,"y":57,"seg":1},{"airfoil":"WE3.55","x":8.3,"y":52.3,"seg":1},{"airfoil":"WE3.55","x":8.9,"y":48.3,"seg":1},{"airfoil":"WE3.55","x":9.5,"y":44.7,"seg":1},{"airfoil":"WE3.55","x":10.1,"y":38.6,"seg":1},{"airfoil":"WE3.55","x":10.5,"y":34,"seg":1},{"airfoil":"WE3.55","x":11,"y":29.5,"seg":1},{"airfoil":"WE3.55","x":11.7,"y":25,"seg":1},{"airfoil":"WE3.55","x":12.5,"y":20.3,"seg":1},{"airfoil":"WE3.55","x":13.2,"y":15.5,"seg":1},{"airfoil":"WE3.55","x":13.8,"y":12,"seg":1},{"airfoil":"WE3.55","x":14.3,"y":8.9,"seg":1}
]
},
"vconcat": [
{
 "hconcat": [
  {"width": 27, "height": 180, "data": {"values": []}, "mark": "point"},
  {
   "width": 375, "height": 180,
   "data": {"name": "polar"},
   "layer": [
    {"mark": {"type": "line"},
     "encoding": {
      "x": {"field": "x", "type": "quantitative", "title": "Cd", "scale": {"domain": [0, 0.12], "nice": false, "zero": false}, "axis": {"values": [0, 0.02, 0.04, 0.06, 0.08, 0.1, 0.12], "tickCount": 50, "format": ".2f", "titleX": 163, "titleY": 44}},
      "y": {"field": "y", "type": "quantitative", "title": "Cₗ", "scale": {"domain": [0, 1.378], "nice": false}, "axis": {"values": [0, 0.2, 0.4, 0.6, 0.8, 1.0, 1.2], "tickCount": 50, "format": ".1f", "titleAngle": 0, "titleX": -82, "titleY": 71, "titleAlign": "center"}},
      "color": {"field": "airfoil", "type": "nominal", "scale": {"domain": ["Aquila 9.3% smoothed", "S9000 (9%)", "S9037 (9%)", "WE3.55"], "range": ["#a3262b", "#28399b", "#b24fc4", "#5cc23c"]}, "legend": {"orient": "none", "legendX": 264, "legendY": 81, "title": null}},
      "strokeDash": {"field": "seg", "type": "nominal", "scale": {"domain": [1, 2], "range": [[1, 0], [3, 2]]}, "legend": null},
      "strokeWidth": {"field": "airfoil", "type": "nominal", "scale": {"domain": ["Aquila 9.3% smoothed", "S9000 (9%)", "S9037 (9%)", "WE3.55"], "range": [1.3, 2.6, 2.6, 3.8]}, "legend": null},
      "order": {"value": null}
     }},
    {"transform": [{"filter": {"field": "airfoil", "oneOf": ["S9037 (9%)", "WE3.55"]}}],
     "mark": {"type": "point", "filled": true, "opacity": 1},
     "encoding": {
      "x": {"field": "x", "type": "quantitative", "title": "Cd"},
      "y": {"field": "y", "type": "quantitative", "title": "Cₗ"},
      "color": {"field": "airfoil", "type": "nominal", "legend": null},
      "shape": {"field": "airfoil", "type": "nominal", "scale": {"domain": ["S9037 (9%)", "WE3.55"], "range": ["square", "circle"]}, "legend": null},
      "size": {"field": "airfoil", "type": "nominal", "scale": {"domain": ["S9037 (9%)", "WE3.55"], "range": [16, 28]}, "legend": null}
     }}
   ]
  }
 ],
 "spacing": 10,
 "bounds": "flush",
 "resolve": {"legend": {"color": "independent"}}
},
{
 "columns": 2,
 "spacing": {"row": 49, "column": 101},
 "bounds": "flush",
 "concat": [
  {
   "width": 168, "height": 182,
   "data": {"name": "clAlpha"},
   "layer": [
    {"mark": {"type": "line"},
     "encoding": {
      "x": {"field": "x", "type": "quantitative", "title": "α", "scale": {"domain": [0, 15], "nice": false}, "axis": {"values": [0, 5, 10, 15], "tickCount": 50, "format": ".1f", "titleY": 43, "titleFontSize": 22}},
      "y": {"field": "y", "type": "quantitative", "title": "Cₗ", "scale": {"domain": [0, 1.317], "nice": false}, "axis": {"values": [0, 0.2, 0.4, 0.6, 0.8, 1.0, 1.2], "tickCount": 50, "format": ".1f", "titleX": -65}},
      "color": {"field": "airfoil", "type": "nominal", "legend": null},
      "strokeDash": {"field": "seg", "type": "nominal", "scale": {"domain": [1, 2], "range": [[1, 0], [3, 2]]}, "legend": null},
      "strokeWidth": {"field": "airfoil", "type": "nominal", "scale": {"domain": ["Aquila 9.3% smoothed", "S9000 (9%)", "S9037 (9%)", "WE3.55"], "range": [1.3, 2.6, 2.6, 3.8]}, "legend": null},
      "order": {"value": null}
     }},
    {"transform": [{"filter": {"field": "airfoil", "oneOf": ["S9037 (9%)", "WE3.55"]}}],
     "mark": {"type": "point", "filled": true, "opacity": 1},
     "encoding": {
      "x": {"field": "x", "type": "quantitative", "title": "α"},
      "y": {"field": "y", "type": "quantitative", "title": "Cₗ"},
      "color": {"field": "airfoil", "type": "nominal", "legend": null},
      "shape": {"field": "airfoil", "type": "nominal", "scale": {"domain": ["S9037 (9%)", "WE3.55"], "range": ["square", "circle"]}, "legend": null},
      "size": {"field": "airfoil", "type": "nominal", "scale": {"domain": ["S9037 (9%)", "WE3.55"], "range": [16, 28]}, "legend": null}
     }}
   ]
  },
  {
   "width": 168, "height": 182,
   "data": {"name": "clXtr"},
   "layer": [
    {"mark": {"type": "line"},
     "encoding": {
      "x": {"field": "x", "type": "quantitative", "title": "Xₜᵣ₁", "scale": {"domain": [0, 0.96], "nice": false}, "axis": {"values": [0, 0.2, 0.4, 0.6, 0.8], "tickCount": 50, "format": ".1f", "titleY": 43}},
      "y": {"field": "y", "type": "quantitative", "title": "Cₗ", "scale": {"domain": [0, 1.32], "nice": false}, "axis": {"values": [0, 0.2, 0.4, 0.6, 0.8, 1.0, 1.2], "tickCount": 50, "format": ".1f", "titleX": -58}},
      "color": {"field": "airfoil", "type": "nominal", "legend": null},
      "strokeDash": {"field": "seg", "type": "nominal", "scale": {"domain": [1, 2], "range": [[1, 0], [3, 2]]}, "legend": null},
      "strokeWidth": {"field": "airfoil", "type": "nominal", "scale": {"domain": ["Aquila 9.3% smoothed", "S9000 (9%)", "S9037 (9%)", "WE3.55"], "range": [1.3, 2.6, 2.6, 3.8]}, "legend": null},
      "order": {"value": null}
     }},
    {"transform": [{"filter": {"field": "airfoil", "oneOf": ["S9037 (9%)", "WE3.55"]}}],
     "mark": {"type": "point", "filled": true, "opacity": 1},
     "encoding": {
      "x": {"field": "x", "type": "quantitative", "title": "Xₜᵣ₁"},
      "y": {"field": "y", "type": "quantitative", "title": "Cₗ"},
      "color": {"field": "airfoil", "type": "nominal", "legend": null},
      "shape": {"field": "airfoil", "type": "nominal", "scale": {"domain": ["S9037 (9%)", "WE3.55"], "range": ["square", "circle"]}, "legend": null},
      "size": {"field": "airfoil", "type": "nominal", "scale": {"domain": ["S9037 (9%)", "WE3.55"], "range": [16, 28]}, "legend": null}
     }}
   ]
  },
  {
   "width": 168, "height": 181,
   "data": {"name": "cmAlpha"},
   "layer": [
    {"mark": {"type": "line"},
     "encoding": {
      "x": {"field": "x", "type": "quantitative", "title": "α", "scale": {"domain": [0, 15], "nice": false}, "axis": {"values": [0, 5, 10, 15], "tickCount": 50, "format": ".1f", "titleY": 43, "titleFontSize": 22}},
      "y": {"field": "y", "type": "quantitative", "title": "Cₘ", "scale": {"domain": [-0.113, 0.0015], "nice": false, "zero": false}, "axis": {"values": [-0.1, -0.08, -0.06, -0.04, -0.02], "tickCount": 50, "format": ".2f", "titleX": -76}},
      "color": {"field": "airfoil", "type": "nominal", "legend": null},
      "strokeDash": {"field": "seg", "type": "nominal", "scale": {"domain": [1, 2], "range": [[1, 0], [3, 2]]}, "legend": null},
      "strokeWidth": {"field": "airfoil", "type": "nominal", "scale": {"domain": ["Aquila 9.3% smoothed", "S9000 (9%)", "S9037 (9%)", "WE3.55"], "range": [1.3, 2.6, 2.6, 3.8]}, "legend": null},
      "order": {"value": null}
     }},
    {"transform": [{"filter": {"field": "airfoil", "oneOf": ["S9037 (9%)", "WE3.55"]}}],
     "mark": {"type": "point", "filled": true, "opacity": 1},
     "encoding": {
      "x": {"field": "x", "type": "quantitative", "title": "α"},
      "y": {"field": "y", "type": "quantitative", "title": "Cₘ"},
      "color": {"field": "airfoil", "type": "nominal", "legend": null},
      "shape": {"field": "airfoil", "type": "nominal", "scale": {"domain": ["S9037 (9%)", "WE3.55"], "range": ["square", "circle"]}, "legend": null},
      "size": {"field": "airfoil", "type": "nominal", "scale": {"domain": ["S9037 (9%)", "WE3.55"], "range": [16, 28]}, "legend": null}
     }}
   ]
  },
  {
   "width": 168, "height": 184,
   "data": {"name": "ldAlpha"},
   "layer": [
    {"mark": {"type": "line"},
     "encoding": {
      "x": {"field": "x", "type": "quantitative", "title": "α", "scale": {"domain": [0, 15], "nice": false}, "axis": {"values": [0, 5, 10, 15], "tickCount": 50, "format": ".1f", "titleY": 40, "titleFontSize": 22}},
      "y": {"field": "y", "type": "quantitative", "title": "Cₗ/Cd", "scale": {"domain": [2, 86], "nice": false, "zero": false}, "axis": {"values": [10, 20, 30, 40, 50, 60, 70, 80], "tickCount": 50, "format": "d", "titleX": -51}},
      "color": {"field": "airfoil", "type": "nominal", "legend": null},
      "strokeDash": {"field": "seg", "type": "nominal", "scale": {"domain": [1, 2], "range": [[1, 0], [3, 2]]}, "legend": null},
      "strokeWidth": {"field": "airfoil", "type": "nominal", "scale": {"domain": ["Aquila 9.3% smoothed", "S9000 (9%)", "S9037 (9%)", "WE3.55"], "range": [1.3, 2.6, 2.6, 3.8]}, "legend": null},
      "order": {"value": null}
     }},
    {"transform": [{"filter": {"field": "airfoil", "oneOf": ["S9037 (9%)", "WE3.55"]}}],
     "mark": {"type": "point", "filled": true, "opacity": 1},
     "encoding": {
      "x": {"field": "x", "type": "quantitative", "title": "α"},
      "y": {"field": "y", "type": "quantitative", "title": "Cₗ/Cd"},
      "color": {"field": "airfoil", "type": "nominal", "legend": null},
      "shape": {"field": "airfoil", "type": "nominal", "scale": {"domain": ["S9037 (9%)", "WE3.55"], "range": ["square", "circle"]}, "legend": null},
      "size": {"field": "airfoil", "type": "nominal", "scale": {"domain": ["S9037 (9%)", "WE3.55"], "range": [16, 28]}, "legend": null}
     }}
   ]
  }
 ]
}
]
}
